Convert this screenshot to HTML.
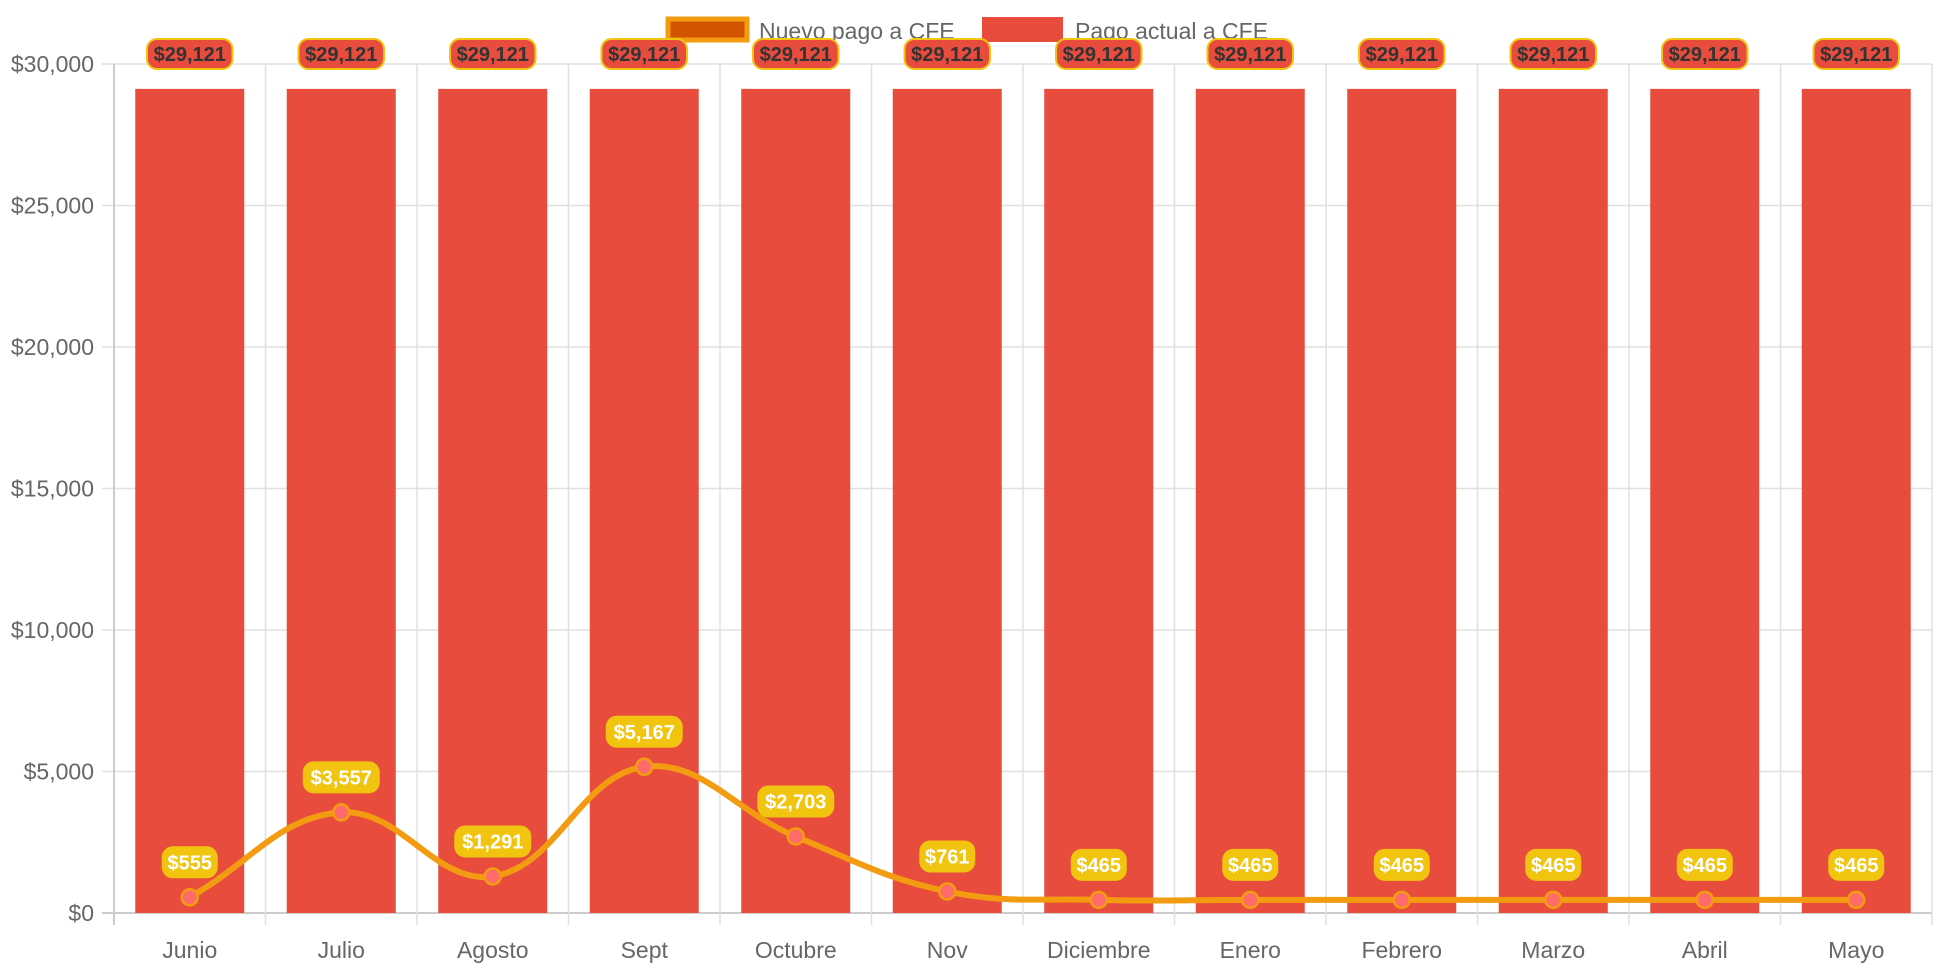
<!DOCTYPE html>
<html><head><meta charset="utf-8">
<style>
html,body{margin:0;padding:0;background:#fff;}
svg{display:block;font-family:"Liberation Sans",Arial,sans-serif;}
</style></head>
<body>
<svg id="chart" width="1942" height="970" viewBox="0 0 1942 970" xmlns="http://www.w3.org/2000/svg">
  <g>
    <g>
      <rect x="668" y="19" width="79" height="21" fill="#d35400" stroke="#f39c12" stroke-width="5"/>
      <text x="759" y="39" font-size="23" fill="#666">Nuevo pago a CFE</text>
    </g>
    <g>
      <rect x="982" y="17" width="81" height="25" fill="#e74c3c"/>
      <text x="1075" y="39" font-size="23" fill="#666">Pago actual a CFE</text>
    </g>
  </g>
  <g id="grid"></g>
  <g id="bars"></g>
  <g id="line"></g>
  <g id="labels"></g>
</svg>
<script>
const categories = ["Junio","Julio","Agosto","Sept","Octubre","Nov","Diciembre","Enero","Febrero","Marzo","Abril","Mayo"];
const barValues = [29121,29121,29121,29121,29121,29121,29121,29121,29121,29121,29121,29121];
const lineValues = [555,3557,1291,5167,2703,761,465,465,465,465,465,465];
const yTicks = [0,5000,10000,15000,20000,25000,30000];
const yTickLabels = ["$0","$5,000","$10,000","$15,000","$20,000","$25,000","$30,000"];

const NS="http://www.w3.org/2000/svg";
const L=114,R=1932,T=64,B=913,yMax=30000;
const cw=(R-L)/categories.length;
function xC(i){return L+cw*(i+0.5);}
function y(v){return B-(v/yMax)*(B-T);}
function mk(tag,attrs,parent){const e=document.createElementNS(NS,tag);for(const k in attrs)e.setAttribute(k,attrs[k]);parent.appendChild(e);return e;}
function fmt(v){return "$"+v.toLocaleString("en-US");}

const grid=document.getElementById("grid");
yTicks.forEach((t,i)=>{
  const yy=y(t);
  const ln=mk("line",{x1:L-12,x2:R,y1:yy,y2:yy,stroke:t===0?"#ccc":"#e0e0e0","stroke-width":t===0?2:1.5},grid);
  
  
  const tx=mk("text",{x:L-20,y:yy+8,"text-anchor":"end","font-size":23,fill:"#666"},grid);
  tx.textContent=yTickLabels[i];
  
  
});
for(let i=0;i<=categories.length;i++){
  const xx=L+cw*i;
  const ln=mk("line",{x1:xx,x2:xx,y1:T,y2:B+12,stroke:i===0?"#ccc":"#e0e0e0","stroke-width":i===0?2:1.5},grid);
  
  
}
categories.forEach((c,i)=>{
  const tx=mk("text",{x:xC(i),y:958,"text-anchor":"middle","font-size":23,fill:"#666"},grid);
  tx.textContent=c;
  
  
});

const bars=document.getElementById("bars");
const bw=109;
barValues.forEach((v,i)=>{
  const r=mk("rect",{x:xC(i)-bw/2,y:y(v),width:bw,height:B-y(v),fill:"#e74c3c"},bars);
  
  
});

const pts=lineValues.map((v,i)=>[xC(i),y(v)]);
let d="M"+pts[0][0]+","+pts[0][1];
const tens=0.4;
function cps(i){
  const p0=pts[Math.max(i-1,0)],p1=pts[i],p2=pts[Math.min(i+1,pts.length-1)];
  const d01=Math.hypot(p1[0]-p0[0],p1[1]-p0[1]),d12=Math.hypot(p2[0]-p1[0],p2[1]-p1[1]);
  let fa=d01/(d01+d12)||0,fb=d12/(d01+d12)||0;
  fa*=tens;fb*=tens;
  return {prev:[p1[0]-fa*(p2[0]-p0[0]),p1[1]-fa*(p2[1]-p0[1])],next:[p1[0]+fb*(p2[0]-p0[0]),p1[1]+fb*(p2[1]-p0[1])]};
}
const cp=pts.map((_,i)=>cps(i));
for(let i=1;i<pts.length;i++){
  const a=cp[i-1].next,b=cp[i].prev;
  d+=` C${a[0]},${Math.min(a[1],B)} ${b[0]},${Math.min(b[1],B)} ${pts[i][0]},${pts[i][1]}`;
}
const line=document.getElementById("line");
const path=mk("path",{d:d,fill:"none",stroke:"#f39c12","stroke-width":6},line);


pts.forEach((p,i)=>{
  const c=mk("circle",{cx:p[0],cy:p[1],r:8,fill:"#ff6b6b",stroke:"#f39c12","stroke-width":2.5},line);
  
  
});

const labels=document.getElementById("labels");
function pill(cx,cy,text,fill,stroke,tcol,name){
  const g=mk("g",{},labels);
  
  
  const w=text.length*10.5+12;
  mk("rect",{x:cx-w/2,y:cy-15,width:w,height:30,rx:10,fill:fill,stroke:stroke,"stroke-width":2},g);
  const t=mk("text",{x:cx,y:cy+7,"text-anchor":"middle","font-size":20,"font-weight":"bold",fill:tcol},g);
  t.textContent=text;
}
barValues.forEach((v,i)=>pill(xC(i),54,fmt(v),"#e74c3c","#f1c40f","#333","bar-value-label"));
lineValues.forEach((v,i)=>pill(xC(i),y(v)-35,fmt(v),"#f1c40f","#f1c40f","#fff","line-value-label"));
</script>
</body></html>
